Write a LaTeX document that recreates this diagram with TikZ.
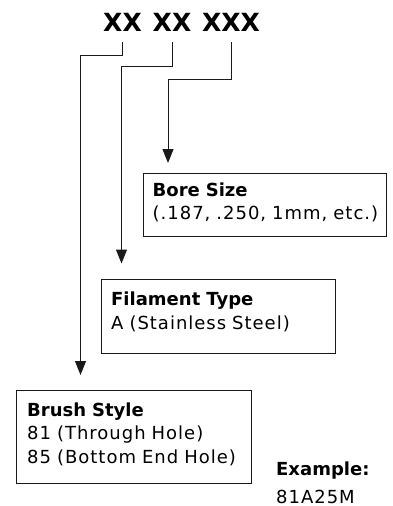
\documentclass[tikz,border=0pt]{standalone}
\usepackage{fontspec}
\setmainfont{DejaVu Sans}[LetterSpace=5.5,BoldFeatures={LetterSpace=0.0}]
\usetikzlibrary{arrows.meta}
\definecolor{Ink}{HTML}{1A1A1A}

\begin{document}
\begin{tikzpicture}[x=1pt,y=-1pt,
  code/.style={font=\fontsize{25}{25}\selectfont\bfseries,inner xsep=0pt,inner ysep=10.5pt,anchor=base},
  panel/.style={draw=Ink,line width=1pt,anchor=north west,inner sep=0pt},
  body/.style={anchor=base west,inner sep=0pt,text width=240pt,align=left,font=\fontsize{18}{23.5}\selectfont},
  arrow/.style={-{Triangle[length=14pt,width=11pt]},line width=1pt,draw=Ink}
]
\useasboundingbox (0,0) rectangle (392,506);
\node[code] (c1) at (122.5,31.5) {XX};
\node[code] (c2) at (172,31.5) {XX};
\node[code] (c3) at (231,31.5) {XXX};

\node[panel,minimum width=243.5pt,minimum height=63.5pt] (bore) at (142.5,172.5) {};
\node[body] (boretxt) at (152.5,196) {\textbf{Bore Size}\\(.187, .250, 1mm, etc.)};
\node[panel,minimum width=234pt,minimum height=74pt] (filament) at (101,279) {};
\node[body] (filtxt) at (111,305.7) {\textbf{Filament Type}\\A (Stainless Steel)};
\node[panel,minimum width=235pt,minimum height=93pt] (brush) at (16,390) {};
\node[body] (brushtxt) at (27,416) {\textbf{Brush Style}\\81 (Through Hole)\\85 (Bottom End Hole)};
\node[body,text width=110pt] (example) at (276,475) {\textbf{Example:}\\[4.5pt]81A25M};

\coordinate (k1) at (80.5,55);
\coordinate (k2) at (121.5,66);
\coordinate (k3) at (168,79);
\draw[arrow,shorten >=15pt] (c1.south) |- (k1) -- (k1 |- brush.north);
\draw[arrow,shorten >=15.5pt] (c2.south) |- (k2) -- (k2 |- filament.north);
\draw[arrow,shorten >=9.5pt] (c3.south) |- (k3) -- (k3 |- bore.north);
\end{tikzpicture}
\end{document}
